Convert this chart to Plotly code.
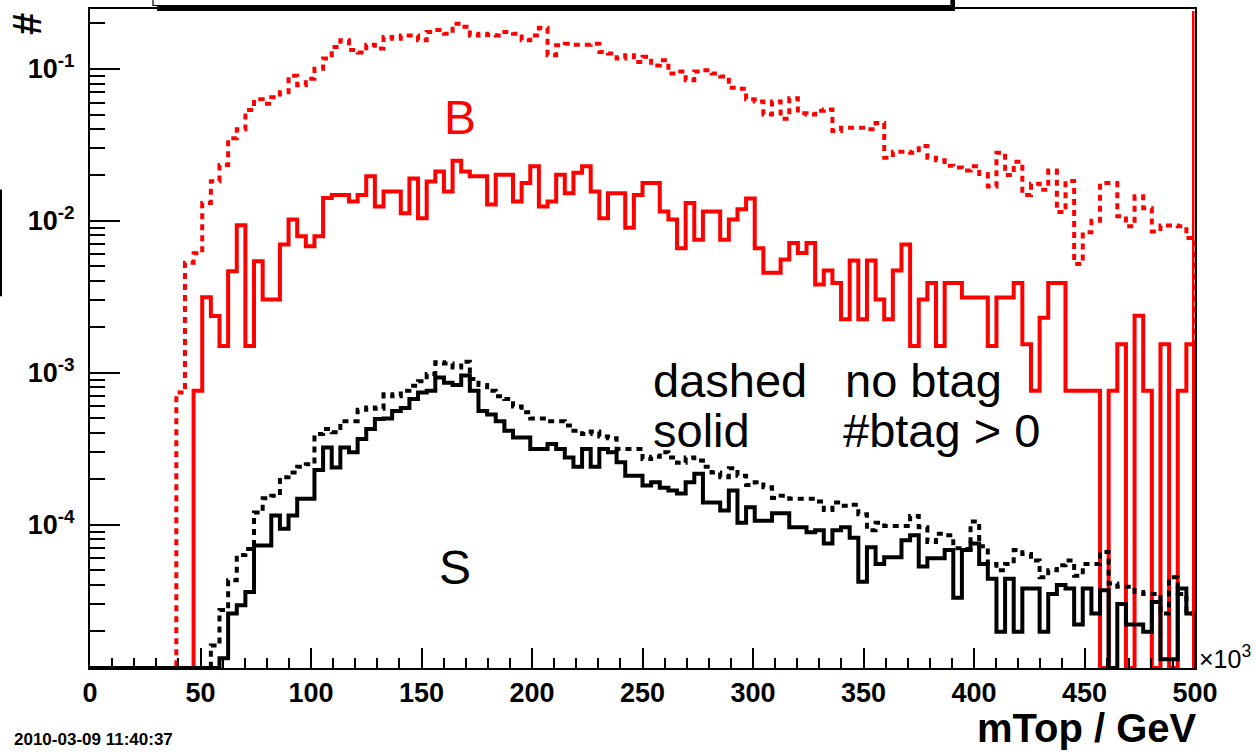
import plotly.graph_objects as go

# ---- histogram binning: mTop / GeV (x 10^3), 128 bins over 0..500 ----
N_BINS = 128
X_MIN, X_MAX = 0.0, 500.0

# background, no b-tag requirement (dashed red)
bkg_nobtag = [
    0, 0, 0, 0, 0, 0, 0, 0, 0, 0,
    7.4e-4, 5.3e-3, 6.1e-3, 1.31e-2, 1.82e-2, 2.33e-2, 3.49e-2, 4.0e-2, 5.35e-2, 6.3e-2,
    5.9e-2, 6.5e-2, 7.0e-2, 9.0e-2, 7.8e-2, 8.6e-2, 0.100, 0.117, 0.139, 0.154,
    0.133, 0.128, 0.144, 0.136, 0.162, 0.158, 0.166, 0.166, 0.154, 0.175,
    0.180, 0.170, 0.198, 0.189, 0.166, 0.170, 0.167, 0.166, 0.175, 0.170,
    0.154, 0.166, 0.186, 0.123, 0.143, 0.146, 0.144, 0.144, 0.146, 0.129,
    0.126, 0.117, 0.123, 0.111, 0.120, 0.105, 0.114, 0.093, 0.096, 0.084,
    0.096, 0.098, 0.093, 0.089, 0.075, 0.074, 0.063, 0.061, 0.050, 0.061,
    0.047, 0.064, 0.051, 0.050, 0.053, 0.054, 0.039, 0.041, 0.041, 0.041,
    0.040, 0.044, 0.026, 0.0285, 0.0285, 0.028, 0.031, 0.026, 0.025, 0.023,
    0.0224, 0.0214, 0.0228, 0.0203, 0.0168, 0.028, 0.020, 0.0245, 0.0148, 0.0175,
    0.016, 0.0214, 0.0114, 0.0183, 0.0052, 0.0084, 0.010, 0.0177, 0.0177, 0.0107,
    0.0092, 0.0145, 0.0121, 0.0085, 0.0093, 0.0093, 0.0092, 0.0077,
]

# background, at least one b-tag (solid red)
bkg_btag = [
    0, 0, 0, 0, 0, 0, 0, 0, 0, 0,
    0, 0, 7.6e-4, 3.14e-3, 2.36e-3, 1.50e-3, 4.66e-3, 9.33e-3, 1.50e-3, 5.42e-3,
    3.03e-3, 3.03e-3, 6.97e-3, 1.02e-2, 7.9e-3, 6.8e-3, 7.9e-3, 1.41e-2, 1.48e-2, 1.48e-2,
    1.34e-2, 1.48e-2, 1.96e-2, 0.0124, 0.0156, 0.0156, 0.0112, 0.019, 0.0104, 0.0181,
    0.0211, 0.0156, 0.0248, 0.0211, 0.0196, 0.0196, 0.0128, 0.0201, 0.0201, 0.0134,
    0.0177, 0.0228, 0.0124, 0.0134, 0.0201, 0.0152, 0.0207, 0.0228, 0.0156, 0.0104,
    0.0152, 0.0152, 0.0090, 0.0148, 0.0177, 0.0177, 0.0115, 0.0102, 0.0066, 0.0131,
    0.0075, 0.0115, 0.0115, 0.0075, 0.0102, 0.0119, 0.0140, 0.0066, 0.00454, 0.00454,
    0.00556, 0.00715, 0.00614, 0.00715, 0.00381, 0.00471, 0.0039, 0.00225, 0.00547, 0.00225,
    0.00547, 0.00303, 0.00225, 0.00471, 0.00697, 0.0015, 0.00303, 0.0039, 0.0015, 0.0039,
    0.0039, 0.00312, 0.00312, 0.00312, 0.0015, 0.00312, 0.00312, 0.0039, 0.00154, 7.6e-4,
    0.0023, 0.0039, 0.0039, 7.6e-4, 7.6e-4, 7.6e-4, 7.6e-4, 0, 7.6e-4, 0.00154,
    0, 0.00237, 7.6e-4, 0, 0.00154, 0, 7.6e-4, 0.00154,
]

# signal, no b-tag requirement (dashed black)
sig_nobtag = [
    0, 0, 0, 0, 0, 0, 0, 0, 0, 0,
    0, 0, 0, 0, 1.6e-5, 2.74e-5, 4.3e-5, 6.3e-5, 6.9e-5, 1.2e-4,
    1.49e-4, 1.55e-4, 2.05e-4, 2.2e-4, 2.4e-4, 2.5e-4, 3.95e-4, 4.26e-4, 4.05e-4, 4.8e-4,
    4.8e-4, 5.7e-4, 5.9e-4, 5.8e-4, 7.2e-4, 7.0e-4, 7.6e-4, 8.2e-4, 8.8e-4, 9.8e-4,
    1.17e-3, 1.15e-3, 1.08e-3, 1.18e-3, 9.1e-4, 8.3e-4, 7.6e-4, 7.0e-4, 6.7e-4, 6.0e-4,
    5.5e-4, 5.0e-4, 5.0e-4, 4.8e-4, 4.8e-4, 4.5e-4, 4.15e-4, 3.95e-4, 4.1e-4, 3.8e-4,
    3.7e-4, 3.15e-4, 3.15e-4, 3.15e-4, 2.7e-4, 2.8e-4, 3.0e-4, 2.77e-4, 2.55e-4, 2.77e-4,
    2.64e-4, 2.4e-4, 2.2e-4, 2.05e-4, 2.35e-4, 2.1e-4, 1.82e-4, 1.9e-4, 1.76e-4, 1.5e-4,
    1.55e-4, 1.48e-4, 1.48e-4, 1.48e-4, 1.42e-4, 1.25e-4, 1.4e-4, 1.33e-4, 1.35e-4, 1.17e-4,
    9.2e-5, 1.03e-4, 9.8e-5, 9.8e-5, 9.8e-5, 1.14e-4, 9.6e-5, 7.7e-5, 8.7e-5, 8.5e-5,
    7.0e-5, 6.9e-5, 1.05e-4, 7.2e-5, 5.5e-5, 5.0e-5, 5.5e-5, 6.8e-5, 6.4e-5, 5.8e-5,
    4.5e-5, 5.0e-5, 5.4e-5, 5.8e-5, 4.6e-5, 5.5e-5, 5.5e-5, 6.6e-5, 4.1e-5, 3.9e-5,
    3.9e-5, 3.6e-5, 3.5e-5, 3.5e-5, 2.6e-5, 4.5e-5, 3.5e-5, 2.6e-5,
]

# signal, at least one b-tag (solid black)
sig_btag = [
    0, 0, 0, 0, 0, 0, 0, 0, 0, 0,
    0, 0, 0, 0, 0, 1.32e-5, 2.6e-5, 2.95e-5, 3.6e-5, 7.3e-5,
    7.3e-5, 1.15e-4, 9.4e-5, 1.15e-4, 1.48e-4, 1.48e-4, 2.29e-4, 3.22e-4, 2.38e-4, 3.22e-4,
    2.99e-4, 3.66e-4, 4.26e-4, 4.95e-4, 5.0e-4, 5.6e-4, 5.85e-4, 6.7e-4, 7.4e-4, 7.6e-4,
    9.3e-4, 8.6e-4, 8.3e-4, 9.6e-4, 7.6e-4, 5.6e-4, 5.3e-4, 4.8e-4, 4.15e-4, 3.75e-4,
    3.75e-4, 3.15e-4, 3.15e-4, 3.4e-4, 3.15e-4, 2.77e-4, 2.4e-4, 3.15e-4, 2.4e-4, 3.15e-4,
    3.0e-4, 2.57e-4, 2.1e-4, 2.1e-4, 1.81e-4, 1.9e-4, 1.75e-4, 1.68e-4, 1.6e-4, 1.9e-4,
    2.16e-4, 1.4e-4, 1.4e-4, 1.24e-4, 1.68e-4, 1.03e-4, 1.3e-4, 1.06e-4, 1.06e-4, 1.19e-4,
    1.19e-4, 9.6e-5, 9.6e-5, 8.9e-5, 9.2e-5, 7.5e-5, 9.2e-5, 9.6e-5, 8.2e-5, 4.2e-5,
    7.1e-5, 5.5e-5, 6.1e-5, 6.1e-5, 7.9e-5, 8.5e-5, 5.3e-5, 6.0e-5, 6.0e-5, 6.8e-5,
    3.3e-5, 6.8e-5, 7.5e-5, 5.5e-5, 4.4e-5, 1.97e-5, 4.4e-5, 1.97e-5, 3.8e-5, 3.8e-5,
    1.97e-5, 3.5e-5, 4.0e-5, 3.8e-5, 2.2e-5, 3.8e-5, 2.6e-5, 3.7e-5, 0, 3.0e-5,
    2.2e-5, 2.2e-5, 1.97e-5, 3.1e-5, 1.3e-5, 1.3e-5, 3.8e-5, 2.6e-5,
]

x_tick_vals = [0, 50, 100, 150, 200, 250, 300, 350, 400, 450, 500]
y_tick_vals = [1e-4, 1e-3, 1e-2, 1e-1]
y_tick_text = ["10<sup>-4</sup>", "10<sup>-3</sup>", "10<sup>-2</sup>", "10<sup>-1</sup>"]
y_minor_vals = [m * 10.0 ** e for e in range(-5, 0) for m in range(2, 10)]

Y_LOG_RANGE = [-4.9436, -0.6063]
FLOOR = 10 ** Y_LOG_RANGE[0]

FONT = "Liberation Sans, Arial, Helvetica, sans-serif"
RED = "#ff0000"
BLACK = "#000000"

bin_w = (X_MAX - X_MIN) / N_BINS
edges = [X_MIN + i * bin_w for i in range(N_BINS + 1)]


def step_trace(values, color, dash):
    # empty bins sit on the lower edge of the log frame
    shown = [v if v > 0 else FLOOR for v in values]
    xs = edges[:-1] + [edges[-1], edges[-1]]
    ys = shown + [shown[-1], FLOOR]
    return go.Scatter(
        x=xs, y=ys, mode="lines",
        line=dict(color=color, width=4, dash=dash, shape="hv"),
        hoverinfo="skip", showlegend=False,
    )


fig = go.Figure()
fig.add_trace(step_trace(bkg_nobtag, RED, "6px,5px"))
fig.add_trace(step_trace(bkg_btag, RED, "solid"))
fig.add_trace(step_trace(sig_nobtag, BLACK, "6px,5px"))
fig.add_trace(step_trace(sig_btag, BLACK, "solid"))

# frame geometry in figure pixels
W, H = 1256, 754
PL, PR, PT, PB = 90, 1195, 7, 668


def fx(px):
    return (px - PL) / (PR - PL)


def fy(py):
    return (PB - py) / (PB - PT)


def label(text, x, y, size, color=BLACK, xanchor="left", bold=False, angle=0):
    return dict(
        text=text, x=fx(x), y=fy(y), xref="paper", yref="paper",
        xanchor=xanchor, yanchor="middle", showarrow=False, textangle=angle,
        font=dict(family=FONT, size=size, color=color,
                  weight="bold" if bold else "normal"),
    )


annotations = [
    label("B", 460, 116, 48, RED, "center"),
    label("S", 455, 567, 48, BLACK, "center"),
    label("dashed", 651, 380, 47),
    label("no btag", 843, 380, 47),
    label("solid", 651, 430, 47),
    label("#btag > 0", 841, 430, 47),
    label("#", 27, 22, 40, bold=True, xanchor="center", angle=-90),
    label("mTop / GeV", 1199, 728, 40, xanchor="right", bold=True),
    label("×10<sup>3</sup>", 1197, 657, 25),
    label("2010-03-09 11:40:37", 12, 740, 17, bold=True),
]

shapes = [
    # title box edge peeking in at the top
    dict(type="rect", xref="paper", yref="paper", x0=fx(157), x1=fx(955),
         y0=fy(9), y1=fy(-2), fillcolor=BLACK, line=dict(width=0)),
    dict(type="rect", xref="paper", yref="paper", x0=fx(153), x1=fx(951),
         y0=fy(3.5), y1=fy(-10), fillcolor="white", line=dict(color=BLACK, width=1.2)),
    # clipped side panel on the far left
    dict(type="line", xref="paper", yref="paper", x0=fx(1), x1=fx(1),
         y0=fy(188), y1=fy(295), line=dict(color=BLACK, width=2)),
    # red closing edge at the upper end of the range
    dict(type="line", xref="x", yref="paper", x0=499.2, x1=499.2,
         y0=0, y1=fy(9), line=dict(color=RED, width=2.5)),
]

fig.update_layout(
    width=W, height=H,
    margin=dict(l=PL, r=W - PR, t=PT, b=H - PB, pad=0),
    paper_bgcolor="white", plot_bgcolor="white",
    showlegend=False,
    annotations=annotations,
    shapes=shapes,
    xaxis=dict(
        range=[X_MIN, X_MAX], tickvals=x_tick_vals,
        ticks="inside", ticklen=20, tickwidth=2, tickcolor=BLACK,
        minor=dict(dtick=10, tick0=0, ticks="inside", ticklen=10,
                   tickwidth=2, tickcolor=BLACK, showgrid=False),
        showgrid=False, zeroline=False,
        showline=True, linecolor=BLACK, linewidth=2, mirror=True,
        tickfont=dict(family=FONT, size=27, color=BLACK, weight="bold"),
        ticklabelstandoff=0,
    ),
    yaxis=dict(
        type="log", range=Y_LOG_RANGE,
        tickmode="array", tickvals=y_tick_vals, ticktext=y_tick_text,
        ticks="inside", ticklen=30, tickwidth=2, tickcolor=BLACK,
        minor=dict(tickmode="array", tickvals=y_minor_vals, ticks="inside",
                   ticklen=15, tickwidth=2, tickcolor=BLACK, showgrid=False),
        showgrid=False, zeroline=False,
        showline=True, linecolor=BLACK, linewidth=2, mirror=True,
        tickfont=dict(family=FONT, size=27, color=BLACK, weight="bold"),
        ticklabelstandoff=8,
    ),
)

fig.write_html("out.html")
